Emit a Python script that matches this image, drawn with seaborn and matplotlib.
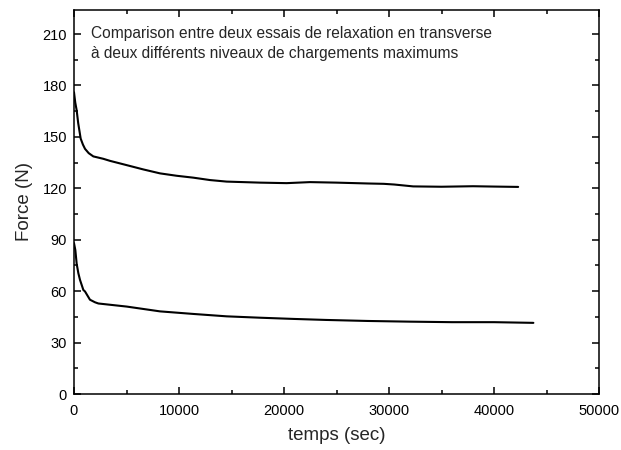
import matplotlib
matplotlib.use("Agg")
import matplotlib.pyplot as plt
from matplotlib.ticker import MultipleLocator
import seaborn as sns
import pandas as pd

# Relaxation test, high maximum load: time (s) and force (N)
high_time = [0, 120, 254, 400, 635, 850, 1050, 1400, 1840, 2790, 3430, 5020,
             6600, 8190, 9780, 11360, 12950, 14540, 17710, 20250, 22476, 25000,
             28000, 29500, 30500, 32300, 35000, 38000, 40000, 42300]
high_force = [176, 170, 165.5, 158, 149, 145.5, 143, 140.5, 138.6, 137.2, 136,
              133.5, 131, 128.7, 127.3, 126.2, 124.8, 123.9, 123.3, 123, 123.6,
              123.3, 122.8, 122.6, 122.2, 121.1, 120.9, 121.2, 121, 120.8]

# Relaxation test, low maximum load: time (s) and force (N)
low_time = [0, 127, 254, 413, 570, 890, 1050, 1520, 2000, 2320, 5020, 8190,
            11360, 14540, 17710, 20890, 24000, 28000, 32000, 36000, 40000, 43750]
low_force = [88, 84, 76, 70.5, 66.6, 60.7, 59.8, 55, 53.5, 52.8, 51, 48.2,
             46.7, 45.3, 44.5, 43.8, 43.2, 42.6, 42.2, 41.9, 41.9, 41.5]

x_ticks = [0, 10000, 20000, 30000, 40000, 50000]
y_ticks = [0, 30, 60, 90, 120, 150, 180, 210]

title_text = ("Comparison entre deux essais de relaxation en transverse\n"
              "à deux différents niveaux de chargements maximums")

df = pd.concat([
    pd.DataFrame({"temps": high_time, "force": high_force, "essai": "haut"}),
    pd.DataFrame({"temps": low_time, "force": low_force, "essai": "bas"}),
], ignore_index=True)

sns.set_style("ticks")
plt.rcParams["font.family"] = ["Liberation Sans", "DejaVu Sans"]

fig = plt.figure(figsize=(6.21, 4.5), dpi=100)
ax = fig.add_axes([74 / 621, 1 - 394 / 450, (599 - 74) / 621, (394 - 10) / 450])

sns.lineplot(data=df, x="temps", y="force", hue="essai",
             palette={"haut": "black", "bas": "black"},
             estimator=None, sort=False, linewidth=1.5, legend=False, ax=ax)

ax.set_xlim(0, 50000)
ax.set_ylim(0, 224)
ax.set_xticks(x_ticks)
ax.set_yticks(y_ticks)
ax.xaxis.set_minor_locator(MultipleLocator(5000))
ax.yaxis.set_minor_locator(MultipleLocator(15))

ax.tick_params(which="both", direction="in", top=True, right=True,
               width=1.1, labelsize=10.5, colors="black")
ax.tick_params(which="major", length=5)
ax.tick_params(which="minor", length=3)
ax.tick_params(axis="x", pad=7)
ax.tick_params(axis="y", pad=5)
for side in ax.spines.values():
    side.set_linewidth(1.1)
    side.set_color("black")
    side.set_visible(True)

ax.set_xlabel("temps (sec)", fontsize=13.5, labelpad=7)
ax.set_ylabel("Force (N)", fontsize=13.5, labelpad=7)

ax.text(0.032, 0.958, title_text, transform=ax.transAxes, fontsize=11.2,
        va="top", ha="left", linespacing=1.4)

fig.savefig("out.png", dpi=100)
